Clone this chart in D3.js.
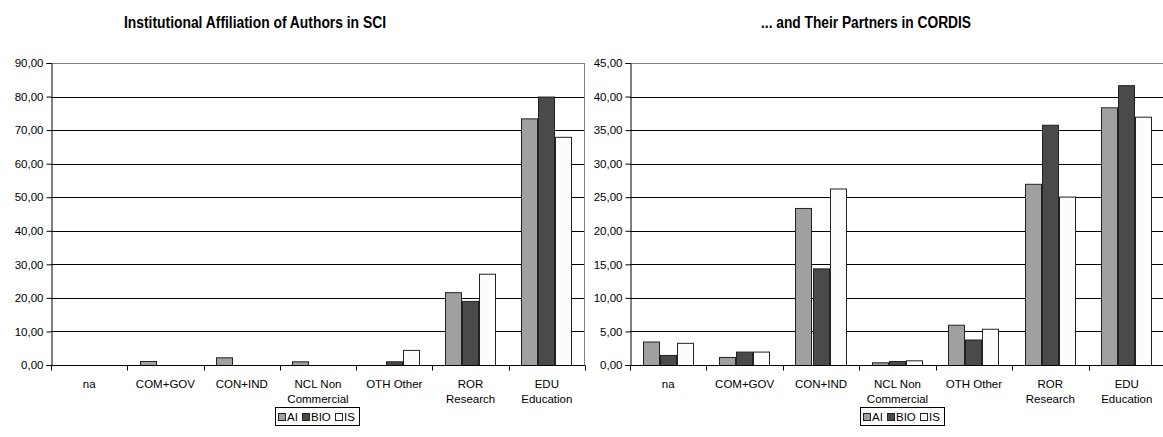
<!DOCTYPE html>
<html><head><meta charset="utf-8">
<script src="https://cdn.jsdelivr.net/npm/d3@7"></script>
<style>body{margin:0;background:#fff;} svg{display:block;}</style>
</head><body>
<svg id="chart" width="1163" height="437"></svg>
<script>
const categories = ["na","COM+GOV","CON+IND","NCL Non Commercial","OTH Other","ROR Research","EDU Education"];
const categoryLines = [["na"],["COM+GOV"],["CON+IND"],["NCL Non","Commercial"],["OTH Other"],["ROR","Research"],["EDU","Education"]];
const seriesNames = ["AI","BIO","IS"];
const seriesColors = ["#a0a0a0","#4a4a4a","#fcfcfc"];
// Left chart: SCI
const sciAI  = [0, 1.2, 2.3, 1.1, 0, 21.7, 73.5];
const sciBIO = [0, 0, 0, 0, 1.1, 19.1, 80.0];
const sciIS  = [0, 0, 0, 0, 4.5, 27.2, 68.0];
const sciTicks = [0,10,20,30,40,50,60,70,80,90];
// Right chart: CORDIS
const corAI  = [3.5, 1.2, 23.4, 0.4, 6.0, 27.0, 38.4];
const corBIO = [1.5, 2.0, 14.4, 0.6, 3.8, 35.8, 41.7];
const corIS  = [3.3, 2.0, 26.3, 0.7, 5.4, 25.1, 37.0];
const corTicks = [0,5,10,15,20,25,30,35,40,45];

const svg = d3.select("#chart");
const FONT = "'Liberation Sans', Arial, sans-serif";
const fmt = v => d3.format(".2f")(v).replace(".", ",");

function drawChart(opt){
  const {x0,x1,top,bottom,title,titleX,titleW,series,ticks,legendX} = opt;
  const g = svg.append("g");
  const x = d3.scaleBand().domain(categories).range([x0,x1]);
  const xs = d3.scaleBand().domain(seriesNames).range([x.bandwidth()*0.165, x.bandwidth()*0.835]);
  const y = d3.scaleLinear().domain([0, ticks[ticks.length-1]]).range([bottom, top]);

  // title (condensed bold)
  g.append("text").attr("x", titleX - titleW/2).attr("y", 28)
    .attr("font-family","'Liberation Sans Narrow', 'Arial Narrow', 'Liberation Sans', Arial, sans-serif")
    .attr("font-weight","bold").attr("font-size","16px").attr("fill","#000")
    .attr("textLength", titleW).attr("lengthAdjust","spacingAndGlyphs").text(title);

  // gridlines
  g.selectAll("line.grid").data(ticks.slice(1, -1)).enter().append("line")
    .attr("x1", x0).attr("x2", x1).attr("y1", d=>Math.round(y(d))+0.5).attr("y2", d=>Math.round(y(d))+0.5)
    .attr("stroke","#000").attr("stroke-width",1);
  // plot border top & right (grey)
  g.append("line").attr("x1",x0).attr("x2",x1).attr("y1",Math.round(y(ticks[ticks.length-1]))+0.5).attr("y2",Math.round(y(ticks[ticks.length-1]))+0.5)
    .attr("stroke","#808080");
  g.append("line").attr("x1",x1-0.5).attr("x2",x1-0.5).attr("y1",top).attr("y2",bottom)
    .attr("stroke","#808080");

  // bars
  series.forEach((vals, si) => {
    g.selectAll(null).data(vals).enter().append("rect")
      .attr("x", (d,i)=> Math.round(x(categories[i]) + xs(seriesNames[si])) + 0.5)
      .attr("width", Math.round(xs.bandwidth()) - 1)
      .attr("y", d => y(d) + 0.5)
      .attr("height", d => Math.max(0, y(0) - y(d)))
      .attr("fill", seriesColors[si])
      .attr("stroke", d => d > 0 ? "#222" : "none").attr("stroke-width", 1);
  });

  // y axis
  const ya = d3.axisLeft(y).tickValues(ticks).tickFormat(fmt).tickSize(5).tickPadding(3);
  const yg = g.append("g").attr("transform", `translate(${x0+0.5},0)`).call(ya);
  yg.selectAll("text").attr("font-family", FONT).attr("font-size","11.5px").attr("fill","#000");
  yg.selectAll("line,path").attr("stroke","#000");

  // x axis
  const xAxisG = g.append("g").attr("transform", `translate(0,${Math.round(y(0))+0.5})`);
  xAxisG.append("line").attr("x1", x0).attr("x2", x1).attr("stroke","#000");
  const bounds = categories.map(c => x(c)).concat([x1]);
  xAxisG.selectAll("line.tk").data(bounds).enter().append("line")
    .attr("x1", d=>Math.round(d)+0.5).attr("x2", d=>Math.round(d)+0.5).attr("y1",0).attr("y2",5).attr("stroke","#000");
  categories.forEach((c, i) => {
    const t = xAxisG.append("text").attr("x", x(c) + x.bandwidth()/2).attr("y", 22)
      .attr("text-anchor","middle").attr("font-family",FONT).attr("font-size","11.5px").attr("fill","#000");
    categoryLines[i].forEach((ln, k) => {
      t.append("tspan").attr("x", x(c) + x.bandwidth()/2).attr("dy", k===0 ? 0 : 15).text(ln);
    });
  });

  // legend
  const lg = g.append("g").attr("transform", `translate(${legendX},407)`);
  const lw = 84, lh = 18;
  lg.append("rect").attr("x",0.5).attr("y",0.5).attr("width",lw).attr("height",lh).attr("fill","#fff").attr("stroke","#000");
  const offs = [3, 27, 60];
  seriesNames.forEach((s, i) => {
    lg.append("rect").attr("x", offs[i]+0.5).attr("y", 6.5).attr("width",7).attr("height",7)
      .attr("fill", seriesColors[i]).attr("stroke","#222");
    lg.append("text").attr("x", offs[i]+9).attr("y", 14).attr("font-family",FONT).attr("font-size","11.5px").attr("fill","#000").text(s);
  });
}

drawChart({x0:51, x1:585, top:63, bottom:365, title:"Institutional Affiliation of Authors in SCI", titleX:255, titleW:262,
  series:[sciAI, sciBIO, sciIS], ticks:sciTicks, legendX:275});
drawChart({x0:630, x1:1165, top:63, bottom:365, title:"... and Their Partners in CORDIS", titleX:866, titleW:210,
  series:[corAI, corBIO, corIS], ticks:corTicks, legendX:860});
</script>
</body></html>
